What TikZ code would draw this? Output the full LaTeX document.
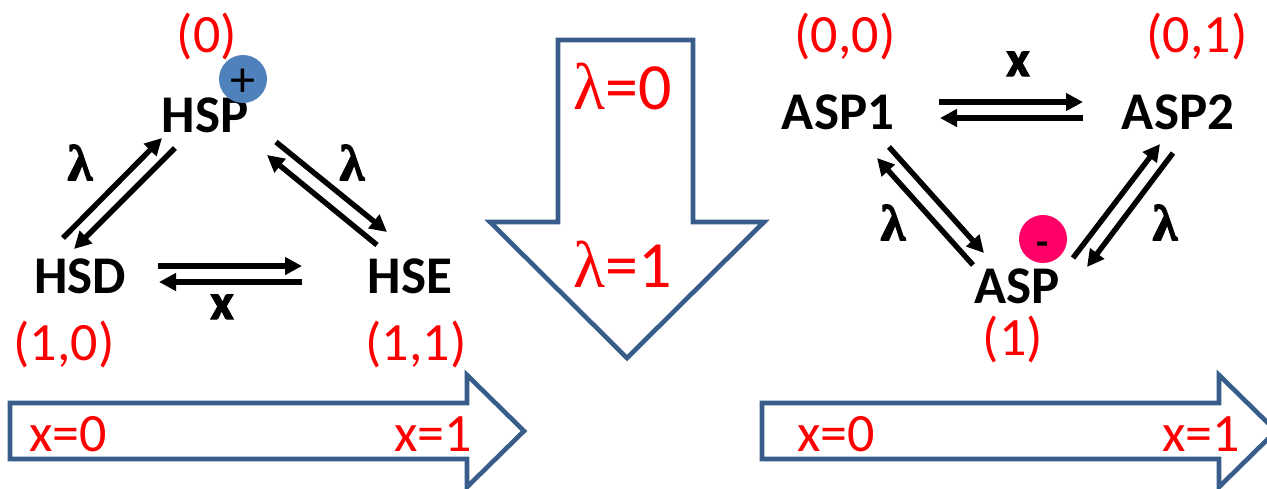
\documentclass[tikz,border=0pt]{standalone}
\usepackage{fontspec}
\setmainfont{Carlito}
\newfontfamily\lamfont{Liberation Serif}
\newfontfamily\ratefont[FakeBold=3]{Liberation Serif Bold}
\newfontfamily\axisfont[FakeBold=2.5]{Carlito Bold}
\usepackage{tikz}
\usetikzlibrary{arrows.meta}
\definecolor{bandblue}{HTML}{385D8A}
\definecolor{plusblue}{HTML}{4F81BD}
\definecolor{minuspink}{HTML}{FF0066}

\begin{document}
\begin{tikzpicture}[
  x=0.5pt, y=-0.5pt,
  every node/.style={inner sep=0pt, anchor=base},
  species/.style={font=\fontsize{26.5}{26.5}\selectfont\bfseries},
  state/.style={font=\fontsize{27}{27}\selectfont, text=red},
  bigstate/.style={font=\fontsize{33}{33}\selectfont, text=red},
  rate/.style={font=\fontsize{25}{25}\selectfont\ratefont},
  axis/.style={font=\fontsize{25}{25}\selectfont\axisfont},
  flow/.style={line width=2.7pt, -{Triangle[length=8.5pt, width=8.5pt]}},
  band/.style={draw=bandblue, line width=2.3pt, miter limit=10},
  charge/.style={circle, anchor=center, minimum size=24pt}
]
  \useasboundingbox (0, 0) rectangle (1267, 488);

  \draw[band] (10, 403) -- (467, 403) -- (467, 375) -- (524, 431) -- (467, 487) -- (467, 459) -- (10, 459) -- cycle;
  \draw[band] (762, 403) -- (1219, 403) -- (1219, 375) -- (1276, 431) -- (1219, 487) -- (1219, 459) -- (762, 459) -- cycle;
  \draw[band] (558, 40) -- (693, 40) -- (693, 222) -- (764, 222) -- (627, 358) -- (490, 222) -- (558, 222) -- cycle;

  \node[species] (hsp) at (205, 132) {HSP};
  \node[species] (hsd) at (80, 293) {HSD};
  \node[species] (hse) at (410, 293) {HSE};
  \node[species] (asp1) at (838, 129) {ASP1};
  \node[species] (asp2) at (1178, 129) {ASP2};
  \node[species] (asp) at (1017, 303) {ASP};

  \node[charge, fill=plusblue, font=\fontsize{25}{25}\selectfont] (plus) at (243, 79) {\smash{\raisebox{-8.5pt}{+}}};
  \node[charge, fill=minuspink, font=\fontsize{20}{20}\selectfont\bfseries] (minus) at (1043, 239) {\smash{\raisebox{-8pt}{-}}};

  \node[state] (s0) at (207, 52) {(0)};
  \node[state] (s10) at (64, 360) {(1,0)};
  \node[state] (s11) at (416, 360) {(1,1)};
  \node[state] (s00) at (845, 52) {(0,0)};
  \node[state] (s01) at (1197, 52) {(0,1)};
  \node[state] (s1) at (1013, 355) {(1)};

  \node[state] (xl0) at (68, 451) {x=0};
  \node[state] (xl1) at (433, 451) {x=1};
  \node[state] (xr0) at (836, 451) {x=0};
  \node[state] (xr1) at (1201, 451) {x=1};
  \node[bigstate] (lam0) at (623, 109) {{\lamfont λ}=0};
  \node[bigstate] (lam1) at (623, 287) {{\lamfont λ}=1};

  \node[rate] (ratel) at (80, 180) {λ};
  \node[rate] (rater) at (352, 180) {λ};
  \node[rate] (ratea) at (893, 240) {λ};
  \node[rate] (rateb) at (1165, 240) {λ};
  \node[axis] (axisl) at (222, 319) {x};
  \node[axis] (axisr) at (1018, 76) {x};

  \draw[flow] ([shift={(-17, -55)}]hsd.base) -- ([shift={(-43, 6)}]hsp.base);
  \draw[flow] ([shift={(-30, 16)}]hsp.base) -- ([shift={(-6, -44)}]hsd.base);
  \draw[flow] ([shift={(-33, -48)}]hse.base) -- ([shift={(62, 23)}]hsp.base);
  \draw[flow] ([shift={(71, 10)}]hsp.base) -- ([shift={(-23, -61)}]hse.base);
  \draw[flow] ([shift={(78, -27)}]hsd.base) -- ([shift={(-108, -27)}]hse.base);
  \draw[flow] ([shift={(-108, -11)}]hse.base) -- ([shift={(79, -11)}]hsd.base);

  \draw[flow] ([shift={(101, -27)}]asp1.base) -- ([shift={(-95, -27)}]asp2.base);
  \draw[flow] ([shift={(-95, -11)}]asp2.base) -- ([shift={(102, -11)}]asp1.base);
  \draw[flow] ([shift={(51, 18)}]asp1.base) -- ([shift={(-33, -50)}]asp.base);
  \draw[flow] ([shift={(-44, -38)}]asp.base) -- ([shift={(39, 29)}]asp1.base);
  \draw[flow] ([shift={(56, -45)}]asp.base) -- ([shift={(-18, 15)}]asp2.base);
  \draw[flow] ([shift={(-5, 24)}]asp2.base) -- ([shift={(70, -36)}]asp.base);
\end{tikzpicture}
\end{document}
